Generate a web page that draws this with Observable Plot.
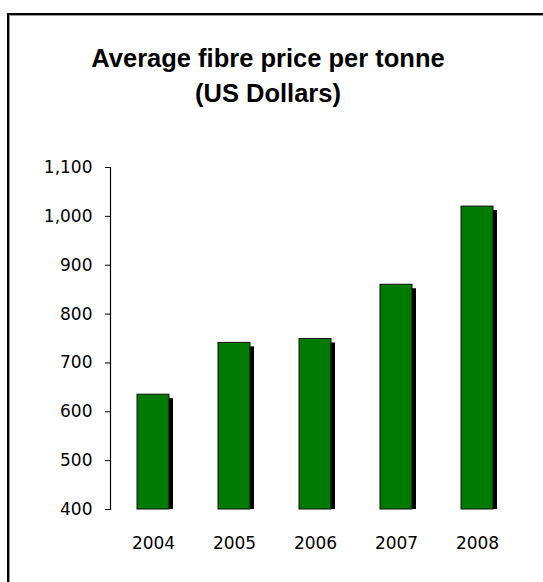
<!DOCTYPE html>
<html><head><meta charset="utf-8">
<script src="https://cdn.jsdelivr.net/npm/d3@7"></script>
<script src="https://cdn.jsdelivr.net/npm/@observablehq/plot@0.6"></script>
<style>
html,body{margin:0;padding:0;background:#fff;}
body{width:543px;height:582px;overflow:hidden;position:relative;}
#frame{position:absolute;left:7px;top:13px;width:620px;height:620px;border-left:2px solid #000;border-top:2px solid #000;box-shadow:inset 1px 1px 0 #999;}
#title{position:absolute;left:0;top:41px;width:536px;text-align:center;font:bold 25.5px "Liberation Sans",Arial,sans-serif;line-height:35px;color:#000;}
#chart{position:absolute;left:0;top:130px;}
</style>
</head><body>
<div id="frame"></div>
<div id="title">Average fibre price per tonne<br>(US Dollars)</div>
<div id="chart"></div>
<script>
const years = ["2004", "2005", "2006", "2007", "2008"];
const prices = [635, 741, 749, 860, 1020];
const yTicks = [400, 500, 600, 700, 800, 900, 1000, 1100];

const data = years.map((year, i) => ({year, price: prices[i]}));

const chart = Plot.plot({
  width: 543,
  height: 452,
  marginLeft: 110,
  marginRight: 23,
  marginTop: 37,
  marginBottom: 73,
  style: {fontFamily: "'DejaVu Sans', Verdana, sans-serif", fontSize: "17px", color: "#000", background: "transparent"},
  x: {domain: years, paddingInner: 0.6, paddingOuter: 0.32},
  y: {domain: [400, 1100]},
  marks: [
    Plot.barY(data, {x: "year", y1: 400, y2: "price", fill: "#000", dx: 4, insetTop: 4}),
    Plot.barY(data, {x: "year", y1: 400, y2: "price", fill: "#007a00", stroke: "#111", strokeWidth: 1}),
    Plot.frame({anchor: "left", stroke: "#000", strokeWidth: 1.2}),
    Plot.axisY({ticks: yTicks, tickFormat: d3.format(","), tickSize: 5, tickPadding: 13, label: null, fontSize: 17}),
    Plot.axisX({tickSize: 0, tickPadding: 27, label: null, fontSize: 17})
  ]
});
document.getElementById("chart").appendChild(chart);
</script>
</body></html>
